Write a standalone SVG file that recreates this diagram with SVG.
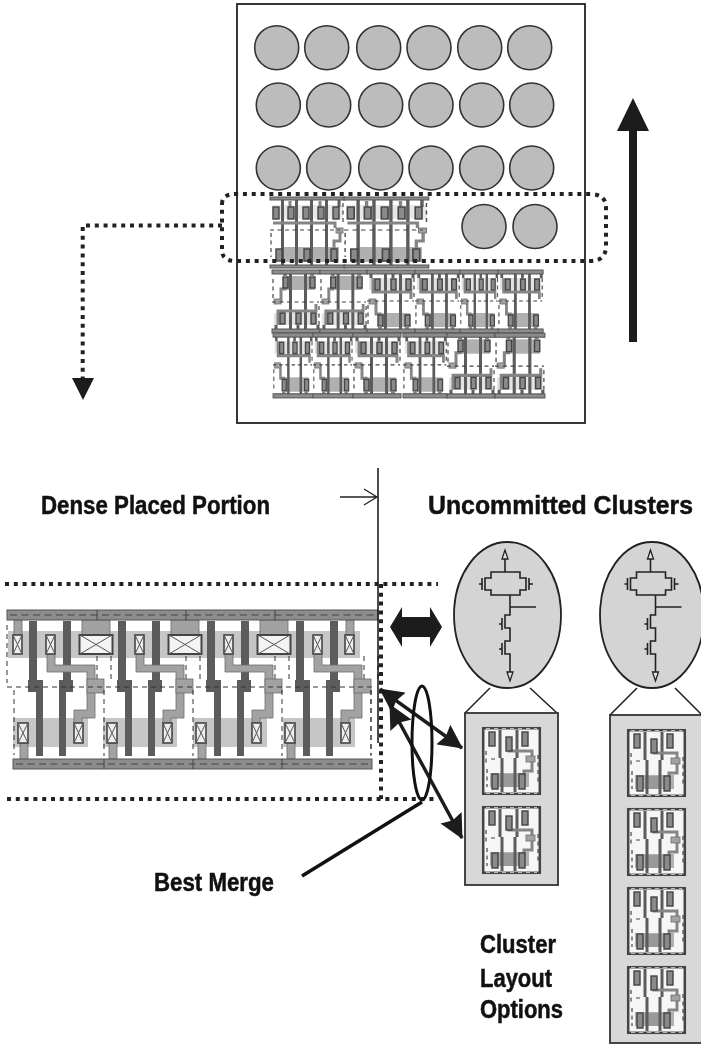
<svg xmlns="http://www.w3.org/2000/svg" width="701" height="1044" viewBox="0 0 701 1044">
<style>
.bg{fill:#fff}
.lbl{font-family:"Liberation Sans",Arial,sans-serif;font-weight:bold;font-size:25px;fill:#111;stroke:#111;stroke-width:.5}
.dot{fill:none;stroke:#222;stroke-width:4;stroke-dasharray:4 4.8}
.blob{fill:#bcbcbc;stroke:#333;stroke-width:1.6}
.panel{fill:#d8d8d8;stroke:#333;stroke-width:1.8}
.rail{fill:#8c8c8c;stroke:#555;stroke-width:1}
.rd{fill:none;stroke:#444;stroke-width:1;stroke-dasharray:7 4.5}
.cd{fill:none;stroke:#333;stroke-width:1;stroke-dasharray:5 4}
.dif{fill:#c6c6c6}
.dif2{fill:#b0b0b0}
.gate{fill:#5c5c5c}
.m1{fill:#a2a2a2;stroke:#6c6c6c;stroke-width:.8}
.ct{fill:#eee;stroke:#444;stroke-width:1.6}
.x{fill:none;stroke:#555;stroke-width:1}
.sgate{fill:none;stroke:#5c5c5c;stroke-width:3}
.sm1{fill:none;stroke:#858585;stroke-width:3}
.sct{fill:#8a8a8a;stroke:#444;stroke-width:1.400}
.sd{fill:none;stroke:#444;stroke-width:1.200;stroke-dasharray:4 3.500}
.wire{fill:none;stroke:#222;stroke-width:1.600}
.open{fill:#e4e4e4;stroke:#222;stroke-width:1.300}
.bl{fill:none;stroke:#222;stroke-width:1.500}
.solid{fill:#1c1c1c}
.soft{filter:url(#soft)}
</style>
<defs>
<filter id="soft" x="-5%" y="-5%" width="110%" height="110%"><feGaussianBlur stdDeviation=".45"/></filter>
<marker id="head" viewBox="0 0 24 24" refX="23" refY="12" markerWidth="24" markerHeight="24" markerUnits="userSpaceOnUse" orient="auto-start-reverse"><path d="M0 0L24 12L0 24L3 12Z" fill="#1c1c1c"/></marker>
<g id="bigcell">
<rect class="gate" x="29" y="621" width="8" height="62"/>
<rect class="gate" x="63" y="621" width="8" height="62"/>
<rect class="gate" x="36" y="685" width="7" height="71"/>
<rect class="gate" x="59" y="685" width="7" height="71"/>
<rect class="gate" x="28" y="680" width="15" height="12"/>
<rect class="gate" x="59" y="680" width="14" height="12"/>
<path class="m1" d="M47 654H55V665H95V718H82V724H74V710H87V672H47Z"/>
<rect class="m1" x="87" y="679" width="17" height="14"/>
<rect class="ct" x="46" y="635" width="9" height="19"/><path class="x" d="M46 635L55 654M55 635L46 654"/>
<rect class="ct" x="74" y="723" width="9" height="20"/><path class="x" d="M74 723L83 743M83 723L74 743"/>
<rect class="m1" x="20" y="743" width="8" height="16"/>
<rect class="ct" x="18" y="723" width="10" height="20"/><path class="x" d="M18 723L28 743M28 723L18 743"/>
<path class="cd" d="M97 656V683M111 656V683M104 690V756"/>
</g>
<g id="wide">
<rect class="m1" x="82" y="620" width="28" height="15"/>
<rect class="ct" x="79.500" y="635" width="33" height="19" style="fill:#f4f4f4;stroke-width:2"/><path class="x" d="M80 635L112 654M112 635L80 654"/>
</g>
<g id="u3">
<rect class="dif" x="2" y="8" width="44" height="12" opacity=".5"/>
<rect class="dif2" x="11" y="43" width="32" height="14"/>
<path class="sgate" d="M18.500 3V61M33.500 3V61M4 3V8M26 3V8M46 3V8"/>
<path class="sm1" d="M6 8V22H44V29M5 32H9V44H13V50"/>
<rect class="m1" x="2" y="29" width="7" height="5"/>
<path class="sd" d="M0 31H47M1 35V57M47 8V28"/>
<g class="sct">
<rect x="8" y="9" width="5" height="11"/><rect x="24" y="9" width="5" height="11"/><rect x="39" y="9" width="5" height="11"/>
<rect x="11" y="45" width="5" height="11"/><rect x="38" y="45" width="5" height="11"/>
</g>
<path class="sm1" d="M13 56V59M40 56V59" style="stroke-width:4"/>
<rect class="rail" x="0" y="0" width="48" height="4"/><rect class="rail" x="0" y="59" width="48" height="4"/>
</g>
<g id="u5">
<rect class="dif" x="2" y="8" width="71" height="14" opacity=".4"/>
<rect class="dif2" x="11" y="50" width="58" height="15"/>
<path class="sgate" d="M12.500 3V69M26.500 3V69M41.500 3V69M56.500 3V69M69 3V10"/>
<path class="sm1" d="M3 26H65V31M70 32V44H64V55M20 4V22M50 4V22"/>
<rect class="m1" x="66" y="31" width="7" height="5"/>
<path class="sd" d="M0 33H70M1 36V60M73 6V26"/>
<g class="sct">
<rect x="3" y="10" width="6" height="12"/><rect x="18" y="10" width="6" height="12"/><rect x="33" y="10" width="6" height="12"/><rect x="48" y="10" width="6" height="12"/><rect x="63" y="10" width="6" height="12"/>
<rect x="6" y="52" width="6" height="12"/><rect x="34" y="52" width="6" height="12"/><rect x="61" y="52" width="6" height="12"/>
</g>
<rect class="rail" x="0" y="0" width="75" height="3"/><rect class="rail" x="0" y="68" width="75" height="3"/>
</g>
<g id="sc">
<rect x="0" y="0" width="59" height="68" fill="#f6f6f6"/>
<rect class="dif2" x="8" y="46" width="39" height="14"/>
<rect x="18" y="47" width="14" height="13" fill="#999"/>
<path class="sgate" d="M18 3V31M20 31V65M35 3V31M33 31V65"/>
<path class="sm1" d="M27 14V24H50V44H42V50"/>
<rect class="m1" x="44" y="29" width="9" height="6"/>
<path class="sd" d="M4 24V36M9 32H16M56 28V56M5 42V60"/>
<g class="sct"><rect x="7" y="5" width="6" height="14"/><rect x="24" y="10" width="6" height="14"/><rect x="40" y="5" width="6" height="14"/><rect x="10" y="47" width="6" height="15"/><rect x="37" y="47" width="6" height="15"/></g>
<rect x="1.200" y="1.200" width="56.600" height="65.600" fill="none" stroke="#444" stroke-width="2.500"/>
<path d="M4 1.500H55M4 66.500H55" stroke="#bbb" stroke-width="1" stroke-dasharray="4 4" fill="none"/>
</g>
<g id="circuit">
<path class="wire" d="M505 559V572M491 572H520V578H526V590H520V595H491V590H485V578H491ZM482 578V590M479 584H482M529 578V590M529 584H533"/>
<path class="wire" d="M510 595V615H505V628H510V641H505V654H510V672M510 607H536M502 618V630M499 624H502M502 643V655M499 649H502"/>
<path class="open" d="M505 550L502 559H508ZM507 672H513L510 681Z"/>
</g>
</defs>
<rect class="bg" width="701" height="1044"/>

<g id="placement-frame"><rect x="237" y="4" width="348" height="419" fill="none" stroke="#222" stroke-width="1.800"/></g>
<g id="placed-clusters">
<circle class="blob" cx="276.700" cy="47.700" r="22"/><circle class="blob" cx="326.700" cy="47.700" r="22"/><circle class="blob" cx="378.700" cy="47.700" r="22"/><circle class="blob" cx="429" cy="47.700" r="22"/><circle class="blob" cx="479.700" cy="47.700" r="22"/><circle class="blob" cx="529.700" cy="47.700" r="22"/>
<circle class="blob" cx="278.300" cy="105" r="22"/><circle class="blob" cx="328.700" cy="105" r="22"/><circle class="blob" cx="380.700" cy="105" r="22"/><circle class="blob" cx="431" cy="105" r="22"/><circle class="blob" cx="481.700" cy="105" r="22"/><circle class="blob" cx="531.700" cy="105" r="22"/>
<circle class="blob" cx="278.300" cy="168" r="22"/><circle class="blob" cx="328.700" cy="168" r="22"/><circle class="blob" cx="380.700" cy="168" r="22"/><circle class="blob" cx="431" cy="168" r="22"/><circle class="blob" cx="481.700" cy="168" r="22"/><circle class="blob" cx="531.700" cy="168" r="22"/>
<circle class="blob" cx="484" cy="226.500" r="22"/><circle class="blob" cx="535" cy="226.500" r="22"/>
</g>
<g id="placed-layout" class="soft">
<use href="#u5" transform="translate(270 197)"/>
<use href="#u5" transform="translate(344 197) scale(1.130 1)"/>
<use href="#u3" transform="translate(272 333) scale(1 -1)"/>
<use href="#u3" transform="translate(320 333) scale(.98 -1)"/>
<use href="#u3" transform="translate(367 270)"/>
<use href="#u3" transform="translate(415 270) scale(.94 1)"/>
<use href="#u3" transform="translate(460 270) scale(.8 1)"/>
<use href="#u3" transform="translate(498 270) scale(.94 1)"/>
<use href="#u3" transform="translate(273 333) scale(.83 1.030)"/>
<use href="#u3" transform="translate(313 333) scale(.83 1.030)"/>
<use href="#u3" transform="translate(353 333) scale(1 1.030)"/>
<use href="#u3" transform="translate(403 333) scale(.92 1.030)"/>
<use href="#u3" transform="translate(447 398) scale(1 -1.030)"/>
<use href="#u3" transform="translate(495 398) scale(1.040 -1.030)"/>
</g>
<g id="up-arrow"><path class="solid" d="M633 98L649 131H637V342H629V131H617Z"/></g>

<g id="dense-row">
<rect class="dif" x="8" y="631" width="352" height="27"/>
<rect class="dif" x="13" y="718" width="75" height="29"/><rect class="dif" x="103" y="718" width="74" height="29"/><rect class="dif" x="193" y="718" width="74" height="29"/><rect class="dif" x="283" y="718" width="72" height="29"/>
<use href="#bigcell"/><use href="#bigcell" x="89"/><use href="#bigcell" x="178"/><use href="#bigcell" x="267"/>
<use href="#wide"/><use href="#wide" x="89"/><use href="#wide" x="178"/>
<rect class="m1" x="14" y="620" width="8" height="15"/><rect class="ct" x="13" y="635" width="9" height="19"/><path class="x" d="M13 635L22 654M22 635L13 654"/>
<rect class="m1" x="346" y="620" width="8" height="15"/><rect class="ct" x="345" y="635" width="9" height="19"/><path class="x" d="M345 635L354 654M354 635L345 654"/>
<rect class="rail" x="7" y="610" width="371" height="10"/><path class="rd" d="M10 615H376"/>
<rect class="rail" x="13" y="759" width="359" height="10"/><path class="rd" d="M16 764H370"/>
<path d="M97 610V620M186 610V620M275 610V620M104 759V769M193 759V769M282 759V769" stroke="#444" stroke-width="1" fill="none"/>
<path class="cd" d="M7 625V683M7 687H372M14 690V755M371 690V755"/>
</g>

<g id="uncommitted-a">
<ellipse cx="507.500" cy="615" rx="53.500" ry="73" fill="#d4d4d4" stroke="#222" stroke-width="1.800"/>
<use href="#circuit"/>
<path class="bl" d="M490 688L465 713M530 688L557 713"/>
</g>
<g id="uncommitted-b">
<ellipse cx="652" cy="615" rx="52" ry="73" fill="#d4d4d4" stroke="#222" stroke-width="1.800"/>
<use href="#circuit" x="145.500"/>
<path class="bl" d="M637 688L610 715M675 688L702 715"/>
</g>
<g id="options-a">
<rect class="panel" x="465" y="713" width="93" height="172"/>
<use href="#sc" x="482" y="727"/><use href="#sc" x="482" y="806"/>
</g>
<g id="options-b">
<rect class="panel" x="610" y="715" width="95" height="328"/>
<use href="#sc" x="627" y="729"/><use href="#sc" x="627" y="808"/><use href="#sc" x="627" y="887"/><use href="#sc" x="627" y="966"/>
</g>

<g id="connectors">
<path class="dot" d="M222 204Q222 194 236 194H590Q606 194 606 208V246Q606 261 590 261H236Q222 261 222 250Z"/>
<path class="dot" d="M222 225.500H82.700V380"/>
<path class="solid" d="M72 378H94L83 400Z"/>
<path d="M378 468V743" fill="none" stroke="#111" stroke-width="1.500"/>
<path d="M340 497H376M364 489L377 497L364 505" fill="none" stroke="#222" stroke-width="1.300"/>
<path class="dot" d="M5 584H438M7 799H438M381 584V799"/>
<path class="solid" d="M390 627L402 607V617H430V607L442 627L430 647V637H402V647Z"/>
<path d="M380 689L462 748" fill="none" stroke="#1c1c1c" stroke-width="3.500" marker-start="url(#head)" marker-end="url(#head)"/>
<path d="M390 705L462 838" fill="none" stroke="#1c1c1c" stroke-width="3.500" marker-start="url(#head)" marker-end="url(#head)"/>
<ellipse cx="422" cy="743" rx="10" ry="57" fill="none" stroke="#111" stroke-width="3"/>
<path d="M422 802L302 876" fill="none" stroke="#111" stroke-width="3.500"/>
</g>
<g id="labels">
<text class="lbl" x="41" y="514" textLength="229" lengthAdjust="spacingAndGlyphs">Dense Placed Portion</text>
<text class="lbl" x="428" y="514" textLength="265" lengthAdjust="spacingAndGlyphs">Uncommitted Clusters</text>
<text class="lbl" x="154" y="891" textLength="120" lengthAdjust="spacingAndGlyphs">Best Merge</text>
<text class="lbl" x="480" y="953" textLength="76" lengthAdjust="spacingAndGlyphs">Cluster</text>
<text class="lbl" x="480" y="987" textLength="72" lengthAdjust="spacingAndGlyphs">Layout</text>
<text class="lbl" x="480" y="1018" textLength="83" lengthAdjust="spacingAndGlyphs">Options</text>
</g>
</svg>
